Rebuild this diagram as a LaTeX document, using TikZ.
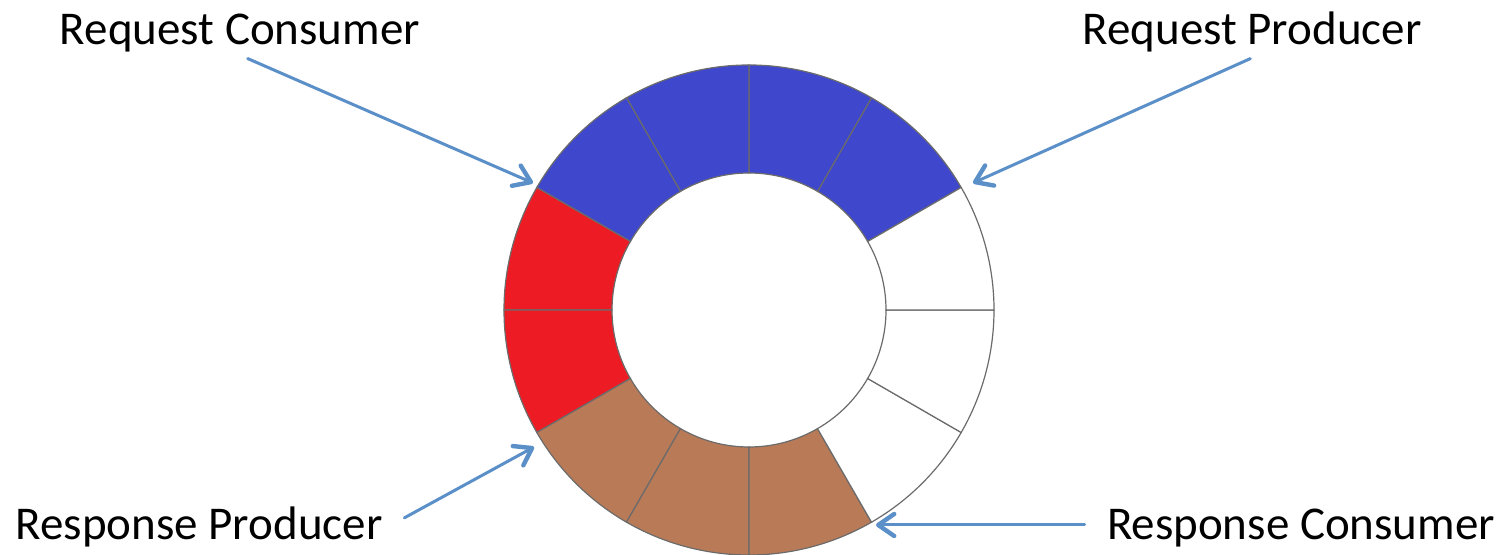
\documentclass[tikz,border=0pt]{standalone}
\usepackage{fontspec}
\setmainfont{Carlito}
\usepackage{tikz}
\usetikzlibrary{arrows.meta}
\definecolor{ringblue}{HTML}{3F48CC}
\definecolor{ringred}{HTML}{ED1C24}
\definecolor{ringbrown}{HTML}{B97A57}
\definecolor{ringedge}{HTML}{6B6B6B}
\definecolor{pointerblue}{HTML}{5A8FC8}

\begin{document}
\begin{tikzpicture}[
  x=0.5pt,y=0.5pt,
  rolelabel/.style={font=\fontsize{23.5}{28}\selectfont,inner sep=2pt,anchor=base},
  slot/.style={draw=ringedge,line width=0.6pt},
  pointer/.style={-{Straight Barb[length=8pt,width=11pt,line width=2.2pt,round]},line width=1.5pt,draw=pointerblue,line cap=round}
]
\useasboundingbox (0,0) rectangle (1502,555);
% ring of twelve slots
\begin{scope}[shift={(749,245)}]
\foreach \a/\col in {30/ringblue,60/ringblue,90/ringblue,120/ringblue,150/ringred,180/ringred,210/ringbrown,240/ringbrown,270/ringbrown,300/white,330/white,0/white}
  \filldraw[slot,fill=\col] (\a:245) arc[start angle=\a,delta angle=30,radius=245] -- (\a+30:137) arc[start angle=\a+30,delta angle=-30,radius=137] -- cycle;
\end{scope}
\node[rolelabel] (reqcons) at (240,510) {Request Consumer};
\node[rolelabel] (reqprod) at (1252,510) {Request Producer};
\node[rolelabel] (respprod) at (199,15) {Response Producer};
\node[rolelabel] (respcons) at (1301,15) {Response Consumer};
\coordinate (rctip) at (533,372);
\coordinate (rptip) at (973,372);
\coordinate (sptip) at (534,108);
\coordinate (sctip) at (876,30);
\draw[pointer,shorten <=2pt] ([xshift=2pt]reqcons.south) -- (rctip);
\draw[pointer,shorten <=2pt] ([xshift=1pt]reqprod.south) -- (rptip);
\draw[pointer,shorten <=10pt] (respprod.east) -- (sptip);
\draw[pointer,shorten <=9pt] (respcons.west |- sctip) -- (sctip);
\end{tikzpicture}
\end{document}
